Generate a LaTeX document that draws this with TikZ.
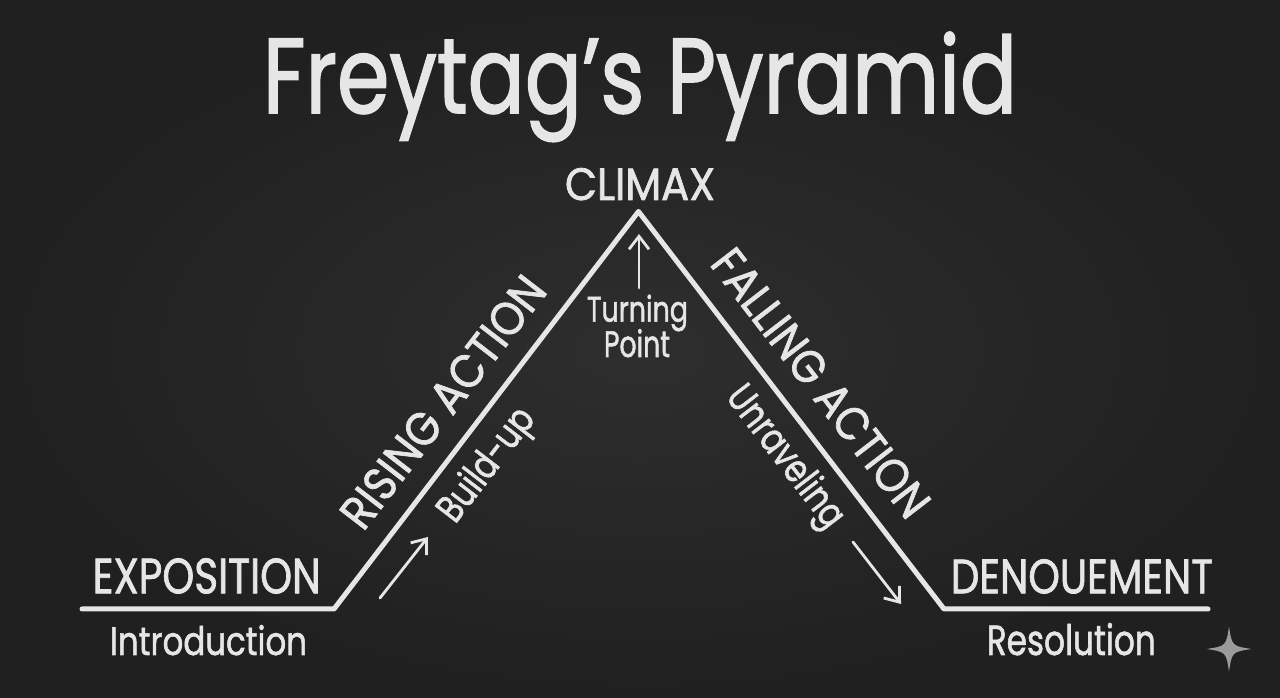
\documentclass[tikz,border=0pt]{standalone}
\usepackage{fontspec}
\setmainfont{Poppins}[FakeBold=1.6]
\usetikzlibrary{arrows.meta}
\definecolor{boardin}{HTML}{2E2E2E}
\definecolor{boardout}{HTML}{202020}
\definecolor{chalk}{HTML}{E6E6E6}
\definecolor{logo}{HTML}{9B9B9B}
\newcommand{\fitbox}[3]{\resizebox{#1pt}{#2pt}{#3}}
\begin{document}
\begin{tikzpicture}[x=1pt,y=1pt,
  lbl/.style={text=chalk,inner sep=0pt,anchor=base},
  rlbl/.style={text=chalk,inner sep=0pt,anchor=center},
  chalkline/.style={draw=chalk,line width=5pt,line join=round,line cap=round},
  chalkarrow/.style={draw=chalk,line width=2.8pt,line cap=round,
    -{Straight Barb[length=13pt,width=20pt,line width=2.8pt]}}]
\useasboundingbox (0,0) rectangle (1280,698);
\shade[inner color=boardin,outer color=boardout] (0,0) rectangle (1280,698);

% pyramid
\coordinate (lstart) at (82,89);
\coordinate (rise) at (334,89);
\coordinate (apex) at (638.5,486.5);
\coordinate (fall) at (944,89);
\coordinate (rend) at (1208,89);
\draw[chalkline] (lstart) -- (rise) -- (apex) -- (fall) -- (rend);

% texts
\node[lbl] (title) at (640,585) {\fitbox{754}{81}{Freytag’s Pyramid}};
\node[lbl] (climax) at (640,498) {\fitbox{150}{32}{CLIMAX}};
\node[lbl] (expo) at (206.7,104.7) {\fitbox{228}{35}{EXPOSITION}};
\node[lbl] (intro) at (208.5,43) {\fitbox{197}{30}{Introduction}};
\node[lbl] (denou) at (1082,104.7) {\fitbox{262}{34}{DENOUEMENT}};
\node[lbl] (resol) at (1071.3,43) {\fitbox{169}{32}{Resolution}};
\node[lbl] (turning) at (637.5,376.3) {\fitbox{101}{27}{Turning}};
\node[lbl] (point) at (637,341) {\fitbox{66}{28}{Point}};

\node[rlbl,rotate=52.4] (rising) at (443,296) {\fitbox{304}{33}{RISING ACTION}};
\node[rlbl,rotate=52.4] (buildup) at (488,232) {\fitbox{133}{30}{Build-up}};
\node[rlbl,rotate=-52.4] (falling) at (821,315) {\fitbox{325}{33}{FALLING ACTION}};
\node[rlbl,rotate=-52.4] (unravel) at (784,240) {\fitbox{168}{30}{Unraveling}};

% arrows
\coordinate (ra1) at (380,100);
\coordinate (ra2) at (428,161);
\draw[chalkarrow] (ra1) -- (ra2);
\coordinate (fa1) at (853,156);
\coordinate (fa2) at (901,94);
\draw[chalkarrow] (fa1) -- (fa2);
\coordinate (ta1) at (639,410);
\coordinate (ta2) at (639,464);
\draw[chalkarrow] (ta1) -- (ta2);

% logo sparkle
\fill[logo] (1229,71.5) .. controls (1232,52) .. (1251.5,49)
  .. controls (1232,46) .. (1229,26.5)
  .. controls (1226,46) .. (1206.5,49)
  .. controls (1226,52) .. cycle;
\end{tikzpicture}
\end{document}
